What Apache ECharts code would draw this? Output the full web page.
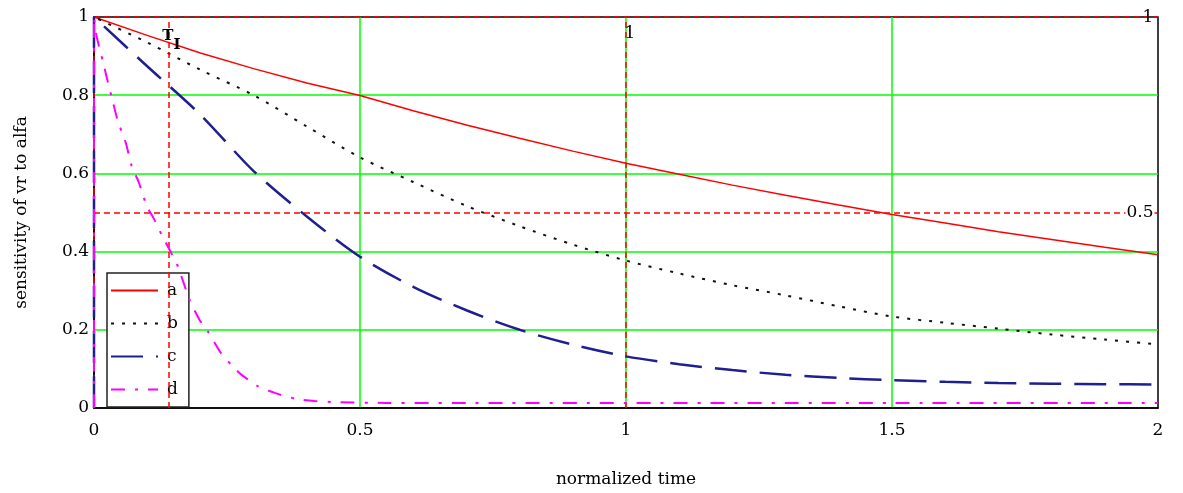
<!DOCTYPE html>
<html>
<head>
<meta charset="utf-8">
<script src="https://cdn.jsdelivr.net/npm/echarts@6/dist/echarts.min.js"></script>
<style>
  html, body { margin: 0; padding: 0; background: #fff; }
  #chart { width: 1183px; height: 493px; }
</style>
</head>
<body>
<div id="chart"></div>
<script>
// Normalized time samples (first point repeated: every curve steps up from 0 at t = 0)
const timeGrid = [0, 0, 0.1, 0.2, 0.3, 0.4, 0.5, 0.6, 0.7, 0.8, 0.9, 1.0,
                  1.1, 1.2, 1.3, 1.4, 1.5, 1.6, 1.7, 1.8, 1.9, 2.0];

// Sensitivity curves on the common grid
const sensA = [0, 1, 0.953, 0.908, 0.868, 0.831, 0.799, 0.76, 0.724, 0.69, 0.657, 0.626,
               0.598, 0.57, 0.544, 0.519, 0.495, 0.473, 0.451, 0.431, 0.411, 0.392];
const sensB = [0, 1, 0.935, 0.865, 0.8, 0.72, 0.641, 0.578, 0.517, 0.465, 0.418, 0.377,
               0.344, 0.314, 0.288, 0.26, 0.234, 0.218, 0.203, 0.188, 0.175, 0.163];
const sensC = [0, 1, 0.874, 0.75, 0.606, 0.49, 0.387, 0.31, 0.25, 0.2, 0.162, 0.132,
               0.112, 0.097, 0.085, 0.077, 0.071, 0.067, 0.064, 0.062, 0.061, 0.06];

// Fast curve d sampled more densely near the start
const timeD = [0, 0, 0.005, 0.017, 0.024, 0.036, 0.045, 0.06, 0.071, 0.084, 0.099, 0.113,
               0.129, 0.144, 0.158, 0.18, 0.199, 0.214, 0.238, 0.259, 0.278, 0.308,
               0.341, 0.381, 0.415, 0.456, 0.55, 0.7, 1.0, 1.5, 2.0];
const sensD = [0, 1, 0.95, 0.885, 0.845, 0.78, 0.733, 0.677, 0.618, 0.578, 0.517, 0.483,
               0.438, 0.4, 0.361, 0.275, 0.224, 0.196, 0.142, 0.109, 0.084, 0.056,
               0.038, 0.023, 0.018, 0.015, 0.013, 0.013, 0.013, 0.013, 0.013];

// Marker lines and their value labels
const markerX = [0.137, 1];
const markerY = [0.5, 1];
// Trace cursor glyphs: [t, value, glyph]
const cursors = [[0.139, 0.952, 'T'], [0.156, 0.929, 'I']];

const xTicks = { min: 0, max: 2, interval: 0.5 };
const yTicks = { min: 0, max: 1, interval: 0.2 };

const FONT = 'DejaVu Serif';
const zip = (ts, vs) => ts.map((t, i) => [t, vs[i]]);

const chart = echarts.init(document.getElementById('chart'), null, { renderer: 'canvas' });

const markerStyle = { color: '#ff0000', type: [6, 4], width: 1.5 };

chart.setOption({
  animation: false,
  backgroundColor: '#ffffff',
  textStyle: { fontFamily: FONT },
  grid: {
    left: 94, right: 25, top: 17, bottom: 83,
    show: true, borderColor: '#000', borderWidth: 1.5, backgroundColor: '#fff'
  },
  legend: {
    orient: 'vertical',
    left: 107, top: 273,
    backgroundColor: '#fff',
    borderColor: '#222', borderWidth: 1.5, borderRadius: 0,
    padding: [9, 11, 9, 3],
    itemWidth: 47, itemHeight: 14, itemGap: 16,
    itemStyle: { opacity: 0 },
    textStyle: { fontFamily: FONT, fontSize: 17, color: '#000', padding: [0, 0, 0, 4] },
    data: ['a', 'b', 'c', 'd']
  },
  xAxis: {
    type: 'value',
    min: xTicks.min, max: xTicks.max, interval: xTicks.interval,
    name: 'normalized time', nameLocation: 'middle', nameGap: 63,
    nameTextStyle: { fontFamily: FONT, fontSize: 17, color: '#000' },
    axisLine: { show: true, lineStyle: { color: '#000', width: 1.5 } },
    axisTick: { show: false },
    axisLabel: { fontFamily: FONT, fontSize: 17, color: '#000', margin: 14,
                 formatter: v => String(v) },
    splitLine: { show: true, showMinLine: false, showMaxLine: false,
                 lineStyle: { color: '#00ff00', width: 1.5 } }
  },
  yAxis: {
    type: 'value',
    min: yTicks.min, max: yTicks.max, interval: yTicks.interval,
    name: 'sensitivity of vr to alfa', nameLocation: 'middle', nameGap: 64,
    nameTextStyle: { fontFamily: FONT, fontSize: 17, color: '#000' },
    axisLine: { show: true, lineStyle: { color: '#000', width: 1.5 } },
    axisTick: { show: false },
    axisLabel: { fontFamily: FONT, fontSize: 17, color: '#000', margin: 5,
                 formatter: v => String(v) },
    splitLine: { show: true, showMinLine: false, showMaxLine: false,
                 lineStyle: { color: '#00ff00', width: 1.5 } }
  },
  series: [
    {
      name: 'a', type: 'line', data: zip(timeGrid, sensA), smooth: false,
      symbol: 'none', color: '#ff0000',
      lineStyle: { color: '#ff0000', width: 1.5, type: 'solid' },
      z: 3
    },
    {
      name: 'b', type: 'line', data: zip(timeGrid, sensB), smooth: 0.3,
      symbol: 'none', color: '#111',
      lineStyle: { color: '#111', width: 2, type: [3, 8] },
      z: 4
    },
    {
      name: 'c', type: 'line', data: zip(timeGrid, sensC), smooth: 0.3,
      symbol: 'none', color: '#1f1f8f',
      lineStyle: { color: '#1f1f8f', width: 2.5, type: [32, 13] },
      z: 5
    },
    {
      name: 'd', type: 'line', data: zip(timeD, sensD), smooth: 0.2,
      symbol: 'none', color: '#ff00ff',
      lineStyle: { color: '#ff00ff', width: 2, type: [14, 10, 3, 10] },
      z: 6
    },
    {
      // marker lines, their labels and the trace cursors
      name: 'markers', type: 'line', data: [], symbol: 'none', z: 7,
      markLine: {
        silent: true, symbol: 'none', animation: false,
        label: { show: false },
        lineStyle: markerStyle,
        data: markerX.map(v => ({ xAxis: v })).concat(markerY.map(v => ({ yAxis: v })))
      },
      markPoint: {
        silent: true, symbol: 'circle', symbolSize: 0, animation: false,
        data: [
          { coord: [markerX[1], markerY[1]], value: markerX[1],
            label: { show: true, position: 'inside', offset: [4, 17],
                     formatter: String(markerX[1]), fontFamily: FONT, fontSize: 17, color: '#000' } },
          { coord: [xTicks.max, markerY[1]], value: markerY[1],
            label: { show: true, position: 'inside', offset: [-10, 1],
                     formatter: String(markerY[1]), fontFamily: FONT, fontSize: 17, color: '#000' } },
          { coord: [xTicks.max, markerY[0]], value: markerY[0],
            label: { show: true, position: 'inside', offset: [-18, 0],
                     backgroundColor: '#fff', padding: [0, 1],
                     formatter: String(markerY[0]), fontFamily: FONT, fontSize: 17, color: '#000' } }
        ].concat(cursors.map(c => ({
          coord: [c[0], c[1]], value: c[1],
          label: { show: true, position: 'inside', formatter: c[2],
                   fontFamily: FONT, fontSize: 15, fontWeight: 'bold', color: '#000' }
        })))
      }
    }
  ]
});
</script>
</body>
</html>
